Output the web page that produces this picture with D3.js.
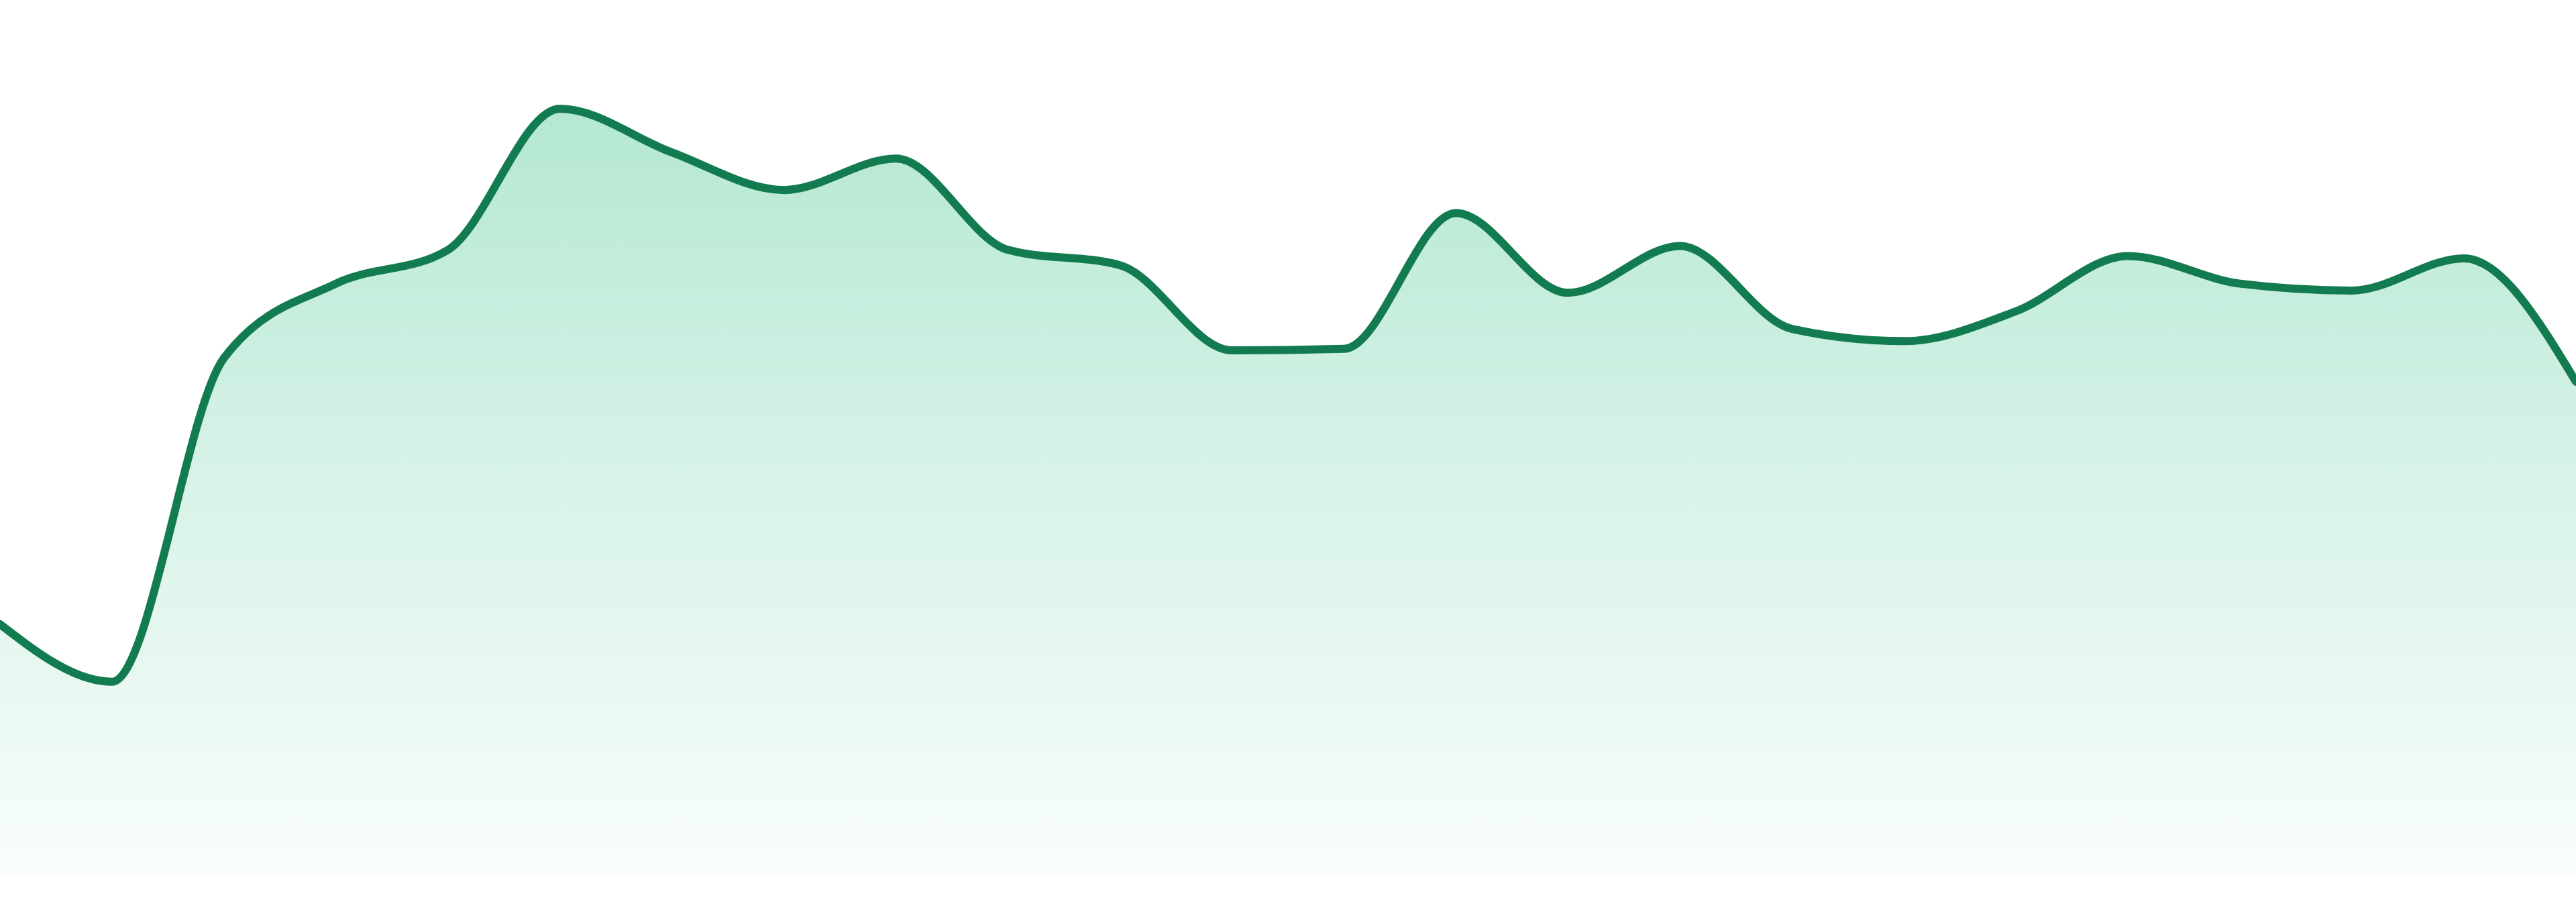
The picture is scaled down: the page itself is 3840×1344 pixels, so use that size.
<!DOCTYPE html>
<html>
<head>
<meta charset="utf-8">
<script src="https://cdn.jsdelivr.net/npm/d3@7"></script>
<style>
  html, body { margin: 0; padding: 0; background: #fff; overflow: hidden; }
  svg { display: block; }
</style>
</head>
<body>
<div id="chart"></div>
<script>
// Sparkline-style area chart, no axes.
const hours = ['00', '01', '02', '03', '04', '05', '06', '07', '08', '09', '10', '11',
               '12', '13', '14', '15', '16', '17', '18', '19', '20', '21', '22', '23'];
const values = [32.8, 25.3, 67.5, 77.2, 81.6, 100, 94.3, 89.4, 93.5, 81.6, 79.6, 68.5,
                68.7, 86.4, 76.0, 82.1, 71.3, 69.7, 73.6, 80.8, 77.2, 76.3, 80.5, 64.4];
const yDomain = [0, 100];

const width = 3840;
const height = 1344;
const baseY = 1305; // bottom of the filled area
const topY = 162;

const data = hours.map((h, i) => ({ h, v: values[i] }));

const x = d3.scalePoint().domain(hours).range([0, width]);
const y = d3.scaleLinear().domain(yDomain).range([baseY, topY]);

const svg = d3.select('#chart')
  .append('svg')
  .attr('width', width)
  .attr('height', height);

svg.append('rect')
  .attr('width', width)
  .attr('height', height)
  .attr('fill', '#ffffff');

// Vertical fade for the fill
const grad = svg.append('defs')
  .append('linearGradient')
  .attr('id', 'fade')
  .attr('x1', 0).attr('y1', 0)
  .attr('x2', 0).attr('y2', 1);
grad.append('stop').attr('offset', '0%')
  .attr('stop-color', '#2fbf84').attr('stop-opacity', 0.36);
grad.append('stop').attr('offset', '45%')
  .attr('stop-color', '#2fbf84').attr('stop-opacity', 0.2);
grad.append('stop').attr('offset', '100%')
  .attr('stop-color', '#2fbf84').attr('stop-opacity', 0.03);

const area = d3.area()
  .x(d => x(d.h))
  .y0(baseY)
  .y1(d => y(d.v))
  .curve(d3.curveMonotoneX);

const line = d3.line()
  .x(d => x(d.h))
  .y(d => y(d.v))
  .curve(d3.curveMonotoneX);

svg.append('path')
  .datum(data)
  .attr('d', area)
  .attr('fill', 'url(#fade)');

svg.append('path')
  .datum(data)
  .attr('d', line)
  .attr('fill', 'none')
  .attr('stroke', '#127b4f')
  .attr('stroke-width', 12)
  .attr('stroke-linejoin', 'round')
  .attr('stroke-linecap', 'round');
</script>
</body>
</html>
